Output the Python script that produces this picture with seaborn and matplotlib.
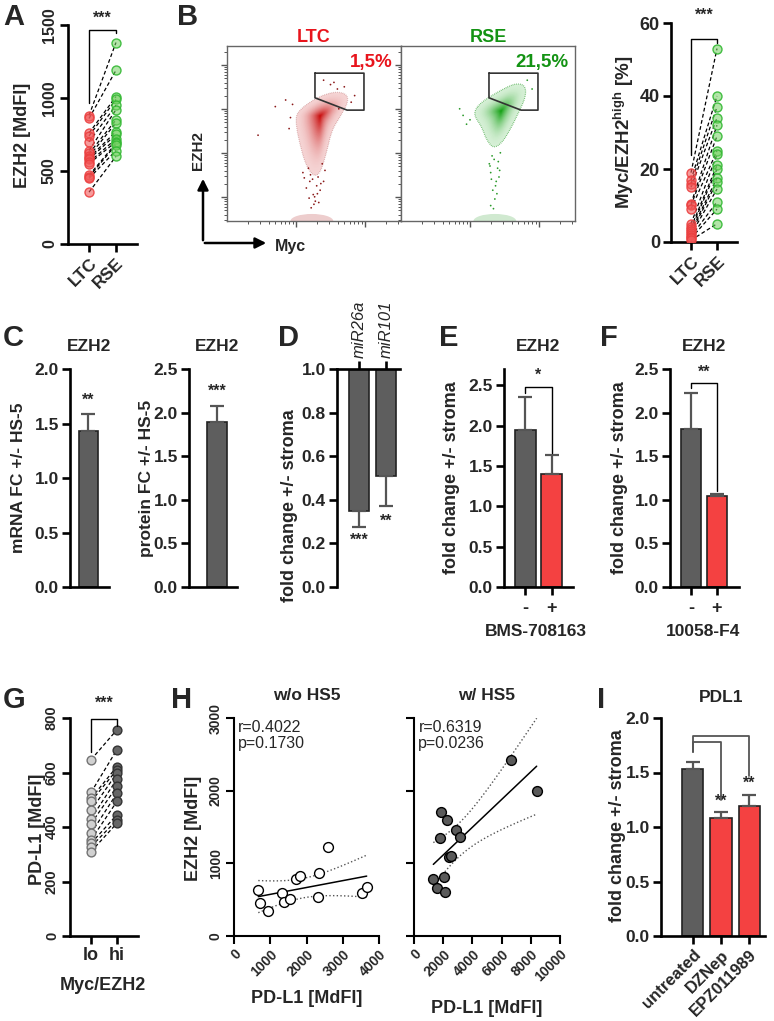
import numpy as np
import pandas as pd
import matplotlib
matplotlib.use("Agg")
import matplotlib.pyplot as plt
import seaborn as sns
from matplotlib.patches import Polygon, Ellipse, FancyArrowPatch
from matplotlib.ticker import FuncFormatter

# ------------------------------------------------------------------ data
groups_A = ["LTC", "RSE"]
ezh2_ltc = [880, 860, 760, 740, 700, 640, 620, 600, 590, 580, 560, 550, 470, 460, 450, 355]
ezh2_rse = [1380, 1190, 1010, 990, 950, 920, 850, 830, 770, 750, 720, 700, 690, 680, 640, 600]

myc_ltc = [19, 17, 16, 15, 10.5, 10, 9, 5, 4, 3.5, 3, 2.5, 2, 1.5, 1, 0.5]
myc_rse = [53, 40, 37, 34, 32, 29, 25, 24, 21, 20, 17.5, 16.5, 14.5, 11, 9, 5]

flow_titles = ["LTC", "RSE"]
gate_pct = ["1,5%", "21,5%"]
# population outlines (decades on log axes)
ltc_cloud_x = [1.01, 1.28, 1.54, 1.73, 1.76, 1.64, 1.52, 1.44, 1.35, 1.25, 1.13, 1.03, 1.00]
ltc_cloud_y = [2.48, 2.79, 2.94, 2.90, 2.71, 2.37, 2.07, 1.54, 1.08, 1.01, 1.31, 1.92, 2.22]
ltc_core = (1.35, 2.39)
rse_cloud_x = [1.07, 1.17, 1.41, 1.65, 1.80, 1.81, 1.70, 1.58, 1.46, 1.34, 1.24, 1.17, 1.07]
rse_cloud_y = [2.52, 2.71, 2.94, 3.13, 3.09, 2.83, 2.45, 2.07, 1.77, 1.65, 1.84, 2.14, 2.37]
rse_core = (1.45, 2.50)
ltc_dots_x = [1.20, 1.30, 1.25, 1.35, 1.15, 1.28, 1.32, 1.22, 1.40, 1.10, 0.70, 0.45, 0.90, 0.85,
              1.50, 1.60, 1.80, 1.85, 1.40, 1.18, 1.38, 1.27, 0.95, 1.62, 1.24, 1.31, 1.19, 1.36,
              1.26, 1.42, 1.12, 1.33, 0.92, 1.70, 1.55, 1.21]
ltc_dots_y = [0.90, 0.80, 0.60, 0.70, 0.75, 0.45, 1.00, 0.30, 0.90, 1.10, 2.60, 1.95, 2.10, 2.75,
              3.10, 3.00, 2.70, 2.85, 3.20, 1.20, 1.30, 0.55, 2.65, 2.55, 0.95, 0.62, 0.52, 0.85,
              0.38, 1.15, 0.98, 0.42, 2.35, 3.05, 3.15, 1.05]
rse_dots_x = [1.35, 1.40, 1.30, 1.38, 1.33, 1.36, 1.30, 1.42, 0.90, 0.95, 0.85, 1.90, 1.28, 1.44,
              1.37, 1.32, 1.39, 1.34, 1.29, 1.41, 1.00, 1.83, 1.31, 1.43]
rse_dots_y = [1.40, 1.20, 1.10, 0.90, 0.70, 0.50, 0.35, 1.00, 2.40, 2.20, 2.55, 3.00, 1.30, 1.55,
              0.80, 1.48, 0.62, 0.28, 1.25, 1.35, 2.30, 3.20, 0.95, 1.15]
gate_x = [1.275, 1.985, 1.985, 1.74, 1.275]
gate_y = [3.36, 3.36, 2.52, 2.52, 2.80]

mrna_fc, mrna_err = [1.43], [0.16]
protein_fc, protein_err = [1.89], [0.19]

mirs = ["miR26a", "miR101"]
mir_fc = [0.35, 0.51]
mir_err = [0.075, 0.14]

E_groups = ["-", "+"]
E_fc = [1.95, 1.40]
E_err = [0.40, 0.23]
F_groups = ["-", "+"]
F_fc = [1.81, 1.04]
F_err = [0.42, 0.03]

G_groups = ["lo", "hi"]
pdl1_lo = [647, 527, 505, 494, 461, 430, 412, 377, 353, 340, 328, 310]
pdl1_hi = [757, 684, 622, 610, 598, 576, 549, 524, 494, 445, 426, 414]

H_wo_x = [670, 716, 945, 1312, 1385, 1541, 1706, 1817, 2340, 2587, 2330, 3541, 3660]
H_wo_y = [634, 459, 349, 597, 473, 515, 781, 827, 873, 1231, 533, 597, 671]
H_w_x = [1324, 1598, 1827, 1781, 2055, 2123, 2237, 2877, 3151, 2420, 2534, 6644, 8402]
H_w_y = [790, 657, 1709, 1355, 818, 611, 1594, 1461, 1364, 1084, 1103, 2426, 1994]
H_stats = ["r=0.4022\np=0.1730", "r=0.6319\np=0.0236"]

I_groups = ["untreated", "DZNep", "EPZ011989"]
I_fc = [1.535, 1.085, 1.19]
I_err = [0.065, 0.05, 0.10]

# ------------------------------------------------------------------ style
sns.set_theme(style="ticks")
plt.rcParams["font.family"] = ["Liberation Sans", "DejaVu Sans"]
plt.rcParams["font.weight"] = "bold"
plt.rcParams["axes.labelweight"] = "bold"
plt.rcParams["mathtext.fontset"] = "custom"
plt.rcParams["mathtext.rm"] = "Liberation Sans:bold"
plt.rcParams["mathtext.bf"] = "Liberation Sans:bold"

W, H = 774, 1021
fig = plt.figure(figsize=(W / 100, H / 100), dpi=100)
fig.patch.set_facecolor("white")

GREY = "#5e5e5e"
RED = "#f44141"
ERR = "#555555"


def add_ax(l, t, r, b):
    return fig.add_axes([l / W, 1 - b / H, (r - l) / W, (b - t) / H])


def ptext(px, py, s, **kw):
    kw.setdefault("ha", "center")
    kw.setdefault("va", "center")
    fig.text(px / W, 1 - py / H, s, **kw)


def style(ax, fs=12.5, lw=1.9):
    sns.despine(ax=ax)
    for sp in ["left", "bottom", "top", "right"]:
        ax.spines[sp].set_linewidth(lw)
        ax.spines[sp].set_color("black")
    ax.tick_params(width=lw, length=6, labelsize=fs, pad=2, color="black")
    ax.set_xlabel("")
    ax.set_ylabel("")
    ax.set_facecolor("none")


def bracket(ax, xs, ys, color="black", lw=1.0):
    ax.plot(xs, ys, color=color, lw=lw, clip_on=False, zorder=5)


def paired(ax, a, b, fa, ea, fb, eb, size):
    for va, vb in zip(a, b):
        ax.plot([0, 1], [va, vb], color="black", lw=0.9, ls=(0, (3, 2)), zorder=2)
    for xpos, vals, fc, ec in [(0, a, fa, ea), (1, b, fb, eb)]:
        df = pd.DataFrame({"x": [xpos] * len(vals), "y": vals})
        sns.scatterplot(data=df, x="x", y="y", s=size, ax=ax, legend=False, zorder=3)
        coll = ax.collections[-1]
        coll.set_facecolor(fc)
        coll.set_edgecolor(ec)
        coll.set_linewidth(1.0)


def rot_xt(ax, labels, fs, rot=45):
    ax.set_xticks(range(len(labels)))
    ax.set_xticklabels(labels, rotation=rot, ha="right", va="top",
                       rotation_mode="anchor", fontsize=fs, fontweight="bold")


def rot_yt(ax):
    for lab in ax.get_yticklabels():
        lab.set_rotation(90)
        lab.set_va("center")


def chaikin(x, y, n=3):
    p = np.column_stack([x, y])
    for _ in range(n):
        q = np.roll(p, -1, axis=0)
        p = np.vstack([np.column_stack([0.75 * p[:, 0] + 0.25 * q[:, 0], 0.75 * p[:, 1] + 0.25 * q[:, 1]]),
                       np.column_stack([0.25 * p[:, 0] + 0.75 * q[:, 0], 0.25 * p[:, 1] + 0.75 * q[:, 1]])])
        idx = np.arange(len(p)).reshape(2, -1).T.ravel()
        p = p[idx]
    return p


# ------------------------------------------------------------------ A
ax = add_ax(68, 25, 137, 244)
paired(ax, ezh2_ltc, ezh2_rse, (0.95, 0.35, 0.35, 0.6), (0.92, 0.25, 0.25, 0.9),
       (0.45, 0.82, 0.38, 0.55), (0.2, 0.72, 0.2, 0.9), 42)
style(ax, fs=11.5)
ax.set_ylim(0, 1500)
ax.set_xlim(-0.78, 1.78)
ax.set_yticks([0, 500, 1000, 1500])
rot_yt(ax)
rot_xt(ax, groups_A, 12.5)
bracket(ax, [0, 0, 1, 1], [965, 1466, 1466, 1445])
ax.text(0.5, 1545, "***", ha="center", va="center", fontsize=11.5)
ptext(23, 135, "EZH2 [MdFI]", rotation=90, fontsize=13, fontweight="bold")
ptext(3, 3, "A", ha="left", va="top", fontsize=21, fontweight="bold")

# ------------------------------------------------------------------ B flow
flow_cfg = [
    (227, ltc_cloud_x, ltc_cloud_y, ltc_core, np.array([0.96, 0.83, 0.83]), np.array([0.78, 0.02, 0.02]),
     ltc_dots_x, ltc_dots_y, "#8b1a1a", "#e8141c", 1.23, 393, 0.35),
    (401, rse_cloud_x, rse_cloud_y, rse_core, np.array([0.84, 0.94, 0.84]), np.array([0.05, 0.62, 0.05]),
     rse_dots_x, rse_dots_y, "#2a9a2a", "#139313", 1.36, 568, 0.8),
]
for i, (left, cx, cy, core, light, dark, dx, dy, dotc, tcol, floorx, pct_x, oalpha) in enumerate(flow_cfg):
    ax = add_ax(left, 46, left + 174, 221)
    ax.set_xlim(0, 174 / 69)
    ax.set_ylim(0, 175 / 44)
    outline = chaikin(cx, cy)
    c = np.array(core)
    N = 40
    for k in range(N):
        s = 1 - k / N
        poly = c + (outline - c) * s
        t = (1 - s) ** 2.0
        col = light * (1 - t) + dark * t
        ax.add_patch(Polygon(poly, closed=True, facecolor=col, edgecolor="none", zorder=1))
    ax.plot(np.append(outline[:, 0], outline[0, 0]), np.append(outline[:, 1], outline[0, 1]),
            ls=(0, (0.5, 1.0)), color=dotc, lw=0.9, alpha=oalpha, zorder=2)
    ax.add_patch(Ellipse((floorx, 0.0), 0.62, 0.32, facecolor=light * 0.97, edgecolor="none", zorder=1))
    sns.scatterplot(x=dx, y=dy, s=1.6, color=dotc, edgecolor="none", ax=ax, legend=False, zorder=2)
    ax.plot(gate_x + [gate_x[0]], gate_y + [gate_y[0]], color="#333333", lw=1.2, zorder=4)
    for sp in ax.spines.values():
        sp.set_color("#666666")
        sp.set_linewidth(1.0)
    xmaj = [1, 2]
    xmin = [d + np.log10(m) for d in [0, 1, 2] for m in range(2, 10) if d + np.log10(m) < 174 / 69]
    ymaj = [0.545, 1.545, 2.545, 3.545]
    ymin = [d + np.log10(m) for d in [-0.455, 0.545, 1.545, 2.545, 3.545] for m in range(2, 10)
            if 0 < d + np.log10(m) < 175 / 44]
    ax.set_xticks(xmaj)
    ax.set_xticks(xmin, minor=True)
    ax.set_yticks(ymaj)
    ax.set_yticks(ymin, minor=True)
    ax.tick_params(which="major", length=4, width=1.0, color="#555555", direction="out",
                   labelbottom=False, labelleft=False)
    ax.tick_params(which="minor", length=2, width=0.7, color="#555555", direction="out")
    ax.set_xlabel("")
    ax.set_ylabel("")
    ptext(left + 87, 37, flow_titles[i], color=tcol, fontsize=13, fontweight="bold")
    ptext(pct_x, 63, gate_pct[i], color=tcol, fontsize=13.5, fontweight="bold", ha="right")

fig.add_artist(FancyArrowPatch((203 / W, 1 - 243 / H), (203 / W, 1 - 176 / H), transform=fig.transFigure,
                               arrowstyle="-|>", mutation_scale=16, lw=1.8, color="black"))
fig.add_artist(FancyArrowPatch((202 / W, 1 - 243 / H), (269 / W, 1 - 243 / H), transform=fig.transFigure,
                               arrowstyle="-|>", mutation_scale=16, lw=1.8, color="black"))
ptext(198, 150, "EZH2", rotation=90, fontsize=11, fontweight="bold")
ptext(290, 246, "Myc", fontsize=11.5, fontweight="bold")
ptext(177, 3, "B", ha="left", va="top", fontsize=21, fontweight="bold")

# ------------------------------------------------------------------ B right
ax = add_ax(671, 23, 737, 242)
paired(ax, myc_ltc, myc_rse, (0.95, 0.35, 0.35, 0.6), (0.92, 0.25, 0.25, 0.9),
       (0.45, 0.82, 0.38, 0.55), (0.2, 0.72, 0.2, 0.9), 42)
style(ax, fs=13)
ax.set_ylim(0, 60)
ax.set_xlim(-0.77, 1.77)
ax.set_yticks([0, 20, 40, 60])
rot_xt(ax, groups_A, 12.5)
bracket(ax, [0, 0, 1, 1], [23.9, 55.7, 55.7, 54.5])
ax.text(0.5, 62.2, "***", ha="center", va="center", fontsize=11.5)
ptext(624, 132, r"Myc/EZH2$^{\mathbf{high}}$ [%]", rotation=90, fontsize=13.5, fontweight="bold")

# ------------------------------------------------------------------ C
for (l, r, vals, errs, ymax, lab, lx, tx, star, stary, xl) in [
        (70, 109, mrna_fc, mrna_err, 2.0, "mRNA FC +/- HS-5", 19, 89, "**", 1.71, (-0.57, 0.66)),
        (189, 237, protein_fc, protein_err, 2.5, "protein FC +/- HS-5", 146, 217, "***", 2.24, (-0.88, 0.63))]:
    ax = add_ax(l, 369, r, 587)
    sns.barplot(x=["EZH2"], y=vals, color=GREY, width=0.6, edgecolor="#222222", linewidth=1.2,
                errorbar=None, ax=ax, saturation=1)
    ax.errorbar([0], vals, yerr=[[0], errs], fmt="none", ecolor=ERR, elinewidth=1.6, capsize=5, capthick=1.6)
    style(ax)
    ax.set_ylim(0, ymax)
    ax.set_xlim(*xl)
    ax.set_yticks(np.arange(0, ymax + 0.01, 0.5))
    ax.yaxis.set_major_formatter(FuncFormatter(lambda v, p: f"{v:.1f}"))
    ax.set_xticks([])
    ax.text(0, stary, star, ha="center", va="center", fontsize=11.5)
    ptext(lx, 478, lab, rotation=90, fontsize=12.5, fontweight="bold")
    ptext(tx, 346, "EZH2", fontsize=12.5, fontweight="bold")
ptext(3, 324, "C", ha="left", va="top", fontsize=21, fontweight="bold")

# ------------------------------------------------------------------ D
ax = add_ax(337, 369, 400, 587)
d_vals = [v - 1 for v in mir_fc]
sns.barplot(x=mirs, y=d_vals, color=GREY, width=0.74, edgecolor="#222222", linewidth=1.2,
            errorbar=None, ax=ax, saturation=1)
ax.errorbar([0, 1], d_vals, yerr=[mir_err, [0, 0]], fmt="none", ecolor=ERR, elinewidth=1.6,
            capsize=5, capthick=1.6)
style(ax)
sns.despine(ax=ax, top=False, bottom=True)
ax.spines["top"].set_linewidth(1.9)
ax.set_ylim(-1, 0)
ax.set_xlim(-0.81, 1.52)
ax.set_yticks(np.arange(-1, 0.01, 0.2))
ax.yaxis.set_major_formatter(FuncFormatter(lambda v, p: f"{v + 1:.1f}"))
ax.xaxis.tick_top()
ax.set_xticks([0, 1])
ax.set_xticklabels(mirs, rotation=90, fontsize=12, fontweight="normal", fontstyle="italic")
ax.text(0, 0.216 - 1, "***", ha="center", va="center", fontsize=11.5)
ax.text(1, 0.30 - 1, "**", ha="center", va="center", fontsize=11.5)
ptext(289, 506, "fold change +/- stroma", rotation=90, fontsize=13, fontweight="bold")
ptext(278, 324, "D", ha="left", va="top", fontsize=21, fontweight="bold")

# ------------------------------------------------------------------ E / F
for (l, r, groups, vals, errs, ymax, xl, br, star, stary, lx, tx, xlab, xlx, letter, letx) in [
        (504, 573, E_groups, E_fc, E_err, 2.7, (-0.78, 1.78), [2.40, 2.48, 2.48, 1.66], "*", 2.62,
         452, 538, "BMS-708163", 536, "E", 439),
        (670, 739, F_groups, F_fc, F_err, 2.5, (-0.81, 1.85), [2.28, 2.34, 2.34, 1.10], "**", 2.46,
         619, 704, "10058-F4", 703, "F", 600)]:
    ax = add_ax(l, 369, r, 587)
    sns.barplot(x=groups, y=vals, hue=groups, palette=[GREY, RED], width=0.78, edgecolor="#222222",
                linewidth=1.2, errorbar=None, ax=ax, saturation=1, legend=False)
    ax.errorbar([0, 1], vals, yerr=[[0, 0], errs], fmt="none", ecolor=ERR, elinewidth=1.6,
                capsize=5, capthick=1.6)
    style(ax)
    ax.set_ylim(0, ymax)
    ax.set_xlim(*xl)
    ax.set_yticks(np.arange(0, 2.51, 0.5))
    ax.yaxis.set_major_formatter(FuncFormatter(lambda v, p: f"{v:.1f}"))
    ax.set_xticks([0, 1])
    ax.set_xticklabels(groups, fontsize=13, fontweight="bold")
    ax.tick_params(axis="x", pad=3)
    bracket(ax, [0, 0, 1, 1], br)
    ax.text(0.5, stary, star, ha="center", va="center", fontsize=11.5)
    ptext(lx, 478, "fold change +/- stroma", rotation=90, fontsize=13, fontweight="bold")
    ptext(tx, 346, "EZH2", fontsize=12.5, fontweight="bold")
    ptext(xlx, 631, xlab, fontsize=12.5, fontweight="bold")
    ptext(letx, 324, letter, ha="left", va="top", fontsize=21, fontweight="bold")

# ------------------------------------------------------------------ G
ax = add_ax(70, 718, 138, 936)
paired(ax, pdl1_lo, pdl1_hi, (0.82, 0.82, 0.82, 1.0), (0.45, 0.45, 0.45, 1.0),
       (0.40, 0.40, 0.40, 1.0), (0.2, 0.2, 0.2, 1.0), 40)
style(ax, fs=10.5)
ax.set_ylim(0, 800)
ax.set_xlim(-0.81, 1.81)
ax.set_yticks([0, 200, 400, 600, 800])
rot_yt(ax)
ax.set_xticks([0, 1])
ax.set_xticklabels(G_groups, fontsize=13, fontweight="bold")
bracket(ax, [0, 0, 1, 1], [677, 797, 797, 770])
ax.text(0.5, 855, "***", ha="center", va="center", fontsize=11.5)
ptext(37, 829, "PD-L1 [MdFI]", rotation=90, fontsize=13, fontweight="bold")
ptext(103, 985, "Myc/EZH2", fontsize=13, fontweight="bold")
ptext(3, 686, "G", ha="left", va="top", fontsize=21, fontweight="bold")

# ------------------------------------------------------------------ H
t_crit = 2.201
for j, (l, r, xs, ys, xmax, xt, face, title, tx, xly, stat) in enumerate([
        (234, 379, H_wo_x, H_wo_y, 4000, [0, 1000, 2000, 3000, 4000], "white", "w/o HS5", 307, 998, H_stats[0]),
        (414, 560, H_w_x, H_w_y, 10000, [0, 2000, 4000, 6000, 8000, 10000], "#5a5a5a", "w/ HS5", 487, 1008, H_stats[1])]):
    ax = add_ax(l, 718, r, 936)
    xa, ya = np.array(xs, float), np.array(ys, float)
    slope, icpt = np.polyfit(xa, ya, 1)
    n = len(xa)
    resid = ya - (slope * xa + icpt)
    s_err = np.sqrt(np.sum(resid ** 2) / (n - 2))
    xg = np.linspace(xa.min(), xa.max(), 60)
    yg = slope * xg + icpt
    half = t_crit * s_err * np.sqrt(1 / n + (xg - xa.mean()) ** 2 / np.sum((xa - xa.mean()) ** 2))
    sns.lineplot(x=xg, y=yg, color="black", lw=1.1, ax=ax)
    sns.lineplot(x=xg, y=yg + half, color="#555555", lw=1.0, ls=":", ax=ax)
    sns.lineplot(x=xg, y=yg - half, color="#555555", lw=1.0, ls=":", ax=ax)
    sns.scatterplot(x=xs, y=ys, s=50, color=face, edgecolor="black", linewidth=1.0, ax=ax, zorder=3)
    style(ax, fs=10, lw=1.5)
    ax.set_xlim(0, xmax)
    ax.set_ylim(0, 3000)
    ax.set_xticks(xt)
    ax.set_xticklabels([str(v) for v in xt], rotation=45, ha="right", va="top",
                       rotation_mode="anchor", fontsize=10, fontweight="bold")
    ax.set_yticks([0, 1000, 2000, 3000])
    if j == 0:
        rot_yt(ax)
    else:
        ax.set_yticklabels([])
    ax.text(0.03, 0.99, stat, transform=ax.transAxes, ha="left", va="top", fontsize=11.5,
            fontweight="normal", linespacing=1.1)
    ptext(tx, 695, title, fontsize=12.5, fontweight="bold")
    ptext(tx, xly, "PD-L1 [MdFI]", fontsize=13, fontweight="bold")
ptext(193, 828, "EZH2 [MdFI]", rotation=90, fontsize=13, fontweight="bold")
ptext(171, 686, "H", ha="left", va="top", fontsize=21, fontweight="bold")

# ------------------------------------------------------------------ I
ax = add_ax(661, 718, 765, 936)
sns.barplot(x=I_groups, y=I_fc, hue=I_groups, palette=[GREY, RED, RED], width=0.75, edgecolor="#222222",
            linewidth=1.2, errorbar=None, ax=ax, saturation=1, legend=False)
ax.errorbar([0, 1, 2], I_fc, yerr=[[0, 0, 0], I_err], fmt="none", ecolor=ERR, elinewidth=1.6,
            capsize=5, capthick=1.6)
style(ax)
ax.set_ylim(0, 2.0)
ax.set_xlim(-1.14, 2.57)
ax.set_yticks(np.arange(0, 2.01, 0.5))
ax.yaxis.set_major_formatter(FuncFormatter(lambda v, p: f"{v:.1f}"))
rot_xt(ax, I_groups, 12)
bracket(ax, [0, 0, 1, 1], [1.69, 1.776, 1.776, 1.25], color="#555555", lw=1.3)
bracket(ax, [0, 0, 2, 2], [1.69, 1.838, 1.838, 1.464], color="#555555", lw=1.3)
ax.text(1, 1.235, "**", ha="center", va="center", fontsize=11.5)
ax.text(2, 1.40, "**", ha="center", va="center", fontsize=11.5)
ptext(618, 826, "fold change +/- stroma", rotation=90, fontsize=13, fontweight="bold")
ptext(721, 697, "PDL1", fontsize=12.5, fontweight="bold")
ptext(597, 686, "I", ha="left", va="top", fontsize=21, fontweight="bold")

fig.savefig("out.png", dpi=100, facecolor="white")
